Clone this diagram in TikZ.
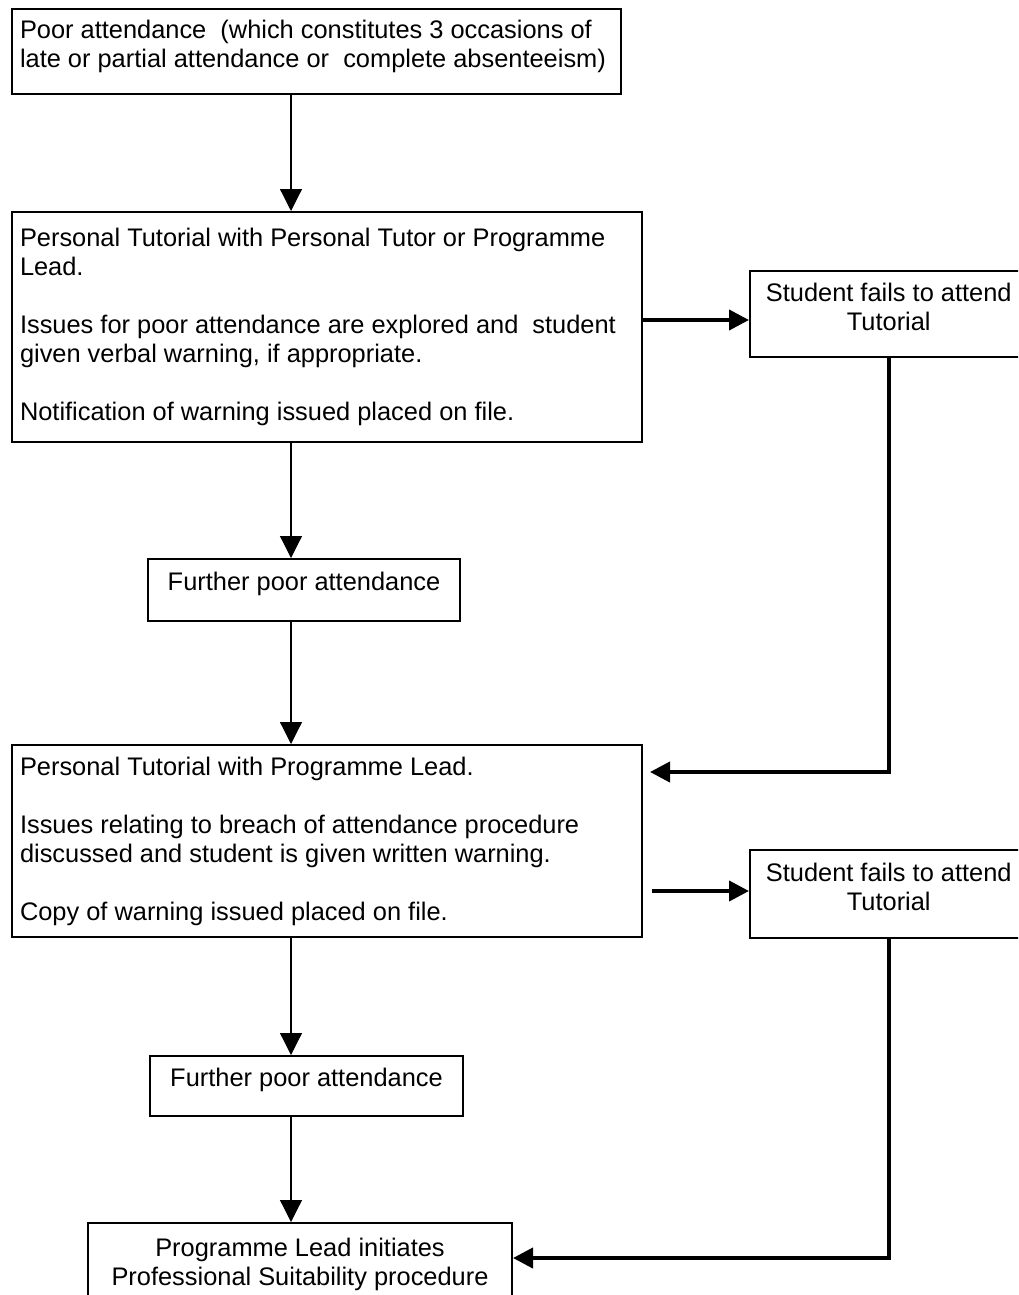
\documentclass[tikz,border=0pt]{standalone}
\usepackage{fontspec}
\setmainfont{Liberation Sans}
\usepackage{tikz}
\usetikzlibrary{arrows.meta}

\begin{document}
\begin{tikzpicture}[x=1pt,y=-1pt,
    font=\fontsize{25.4}{29}\selectfont,
    stage/.style={draw,line width=2pt,anchor=north west,inner xsep=8pt,inner ysep=0pt},
    thinarrow/.style={line width=1.2pt,-{Triangle[length=22pt,width=22pt]}},
    thickarrow/.style={line width=4pt,-{Triangle[length=20pt,width=20pt]}}]
        \clip (0,0) rectangle (1018,1295);
        \coordinate (spine) at (291,0);

        \node[stage,minimum width=609pt,minimum height=85pt,text width=593pt,align=flush left,text depth=44pt] (poor) at (11,8)
            {Poor attendance\ \ (which constitutes 3 occasions of\\late or partial attendance or\ \ complete absenteeism)};
        \node[stage,minimum width=630pt,minimum height=230pt,text width=614pt,align=flush left] (tut1) at (11,211)
            {Personal Tutorial with Personal Tutor or Programme\\Lead.\\[29pt]Issues for poor attendance are explored and\ \ student\\given verbal warning, if appropriate.\\[29pt]Notification of warning issued placed on file.};
        \node[stage,minimum width=312pt,minimum height=62pt,align=center,text depth=17pt] (further1) at (147,558) {Further poor attendance};
        \node[stage,minimum width=630pt,minimum height=192pt,text width=614pt,align=flush left] (tut2) at (11,744)
            {Personal Tutorial with Programme Lead.\\[29pt]Issues relating to breach of attendance procedure\\discussed and student is given written warning.\\[29pt]Copy of warning issued placed on file.};
        \node[stage,minimum width=313pt,minimum height=60pt,align=center,text depth=17pt] (further2) at (149,1055) {Further poor attendance};
        \node[stage,minimum width=424pt,minimum height=90pt,align=center,text depth=12pt] (suit) at (87,1222)
            {Programme Lead initiates\\Professional Suitability procedure};

        \node[stage,line width=1.5pt,minimum width=278pt,minimum height=86pt,align=center,text depth=14pt] (fail1) at (749,270) {Student fails to attend\\Tutorial};
        \node[stage,line width=1.5pt,minimum width=278pt,minimum height=88pt,align=center,text depth=14pt] (fail2) at (749,849) {Student fails to attend\\Tutorial};

        \draw[thinarrow] (poor.south -| spine) -- (tut1.north -| spine);
        \draw[thinarrow] (tut1.south -| spine) -- (further1.north -| spine);
        \draw[thinarrow] (further1.south -| spine) -- (tut2.north -| spine);
        \draw[thinarrow] (tut2.south -| spine) -- (further2.north -| spine);
        \draw[thinarrow] (further2.south -| spine) -- (suit.north -| spine);

        \draw[thickarrow] (tut1.east |- 0,320) -- (fail1.west |- 0,320);
        \draw[thickarrow,shorten >=7pt] (fail1.south) |- (tut2.east |- 0,772);
        \draw[thickarrow,shorten <=9pt] (tut2.east |- 0,891) -- (fail2.west |- 0,891);
        \draw[thickarrow] (fail2.south) |- (suit.east |- 0,1258);
\end{tikzpicture}
\end{document}
